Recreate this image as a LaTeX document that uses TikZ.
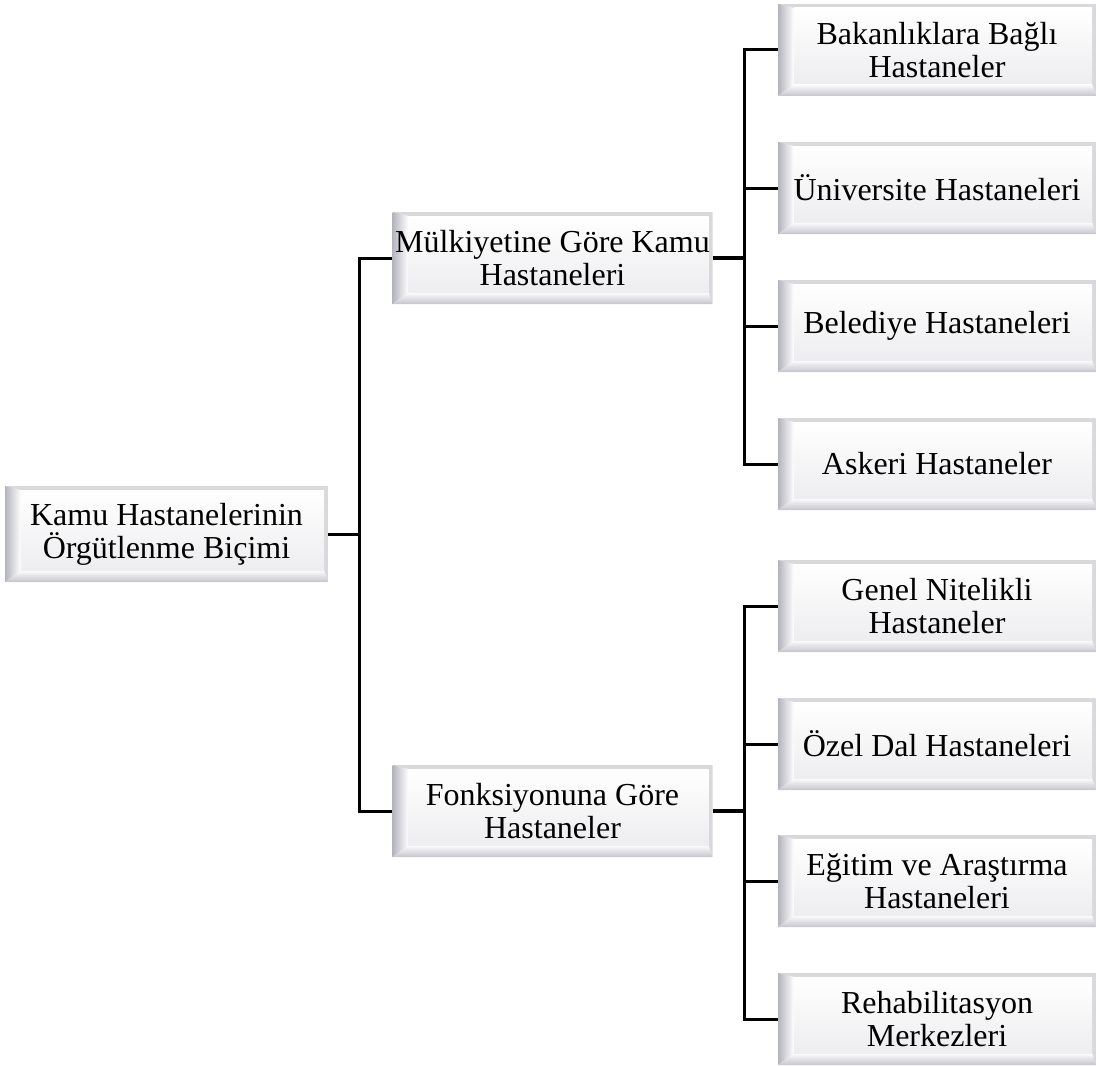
\documentclass[tikz,border=0pt]{standalone}
\usepackage{fontspec}
\setmainfont{Liberation Serif}
\usetikzlibrary{calc}
\definecolor{crim}{HTML}{D9D9DB}
\definecolor{cside}{HTML}{B4B4BE}
\definecolor{cbase}{HTML}{C4C4CC}
\definecolor{cline}{HTML}{000000}
\tikzset{
  every picture/.style={font=\fontsize{16}{16.5}\selectfont},
  box/.style={fill=white, minimum width=#1, minimum height=46pt, inner sep=0pt, align=center,
    path picture={
      \path (path picture bounding box.south west) coordinate (bsw)
            (path picture bounding box.north east) coordinate (bne);
      \fill[crim] (bsw) rectangle (bne);
      \shade[left color=cside, right color=white] (bsw) -- ($(bsw)+(8pt,6pt)$) -- ($(bsw|-bne)+(8pt,-2pt)$) -- (bsw|-bne) -- cycle;
      \shade[top color=white, bottom color=cbase] (bsw) -- (bne|-bsw) -- ($(bne|-bsw)+(-2pt,6pt)$) -- ($(bsw)+(8pt,6pt)$) -- cycle;
      \shade[top color=white, bottom color=cbase!30] ($(bsw)+(8pt,6pt)$) rectangle ($(bne)+(-2pt,-2pt)$);
    }},
  box/.default=160pt,
  link/.style={draw=cline, line width=1.5pt},
}
\begin{document}
\begin{tikzpicture}[x=0.5pt,y=-0.5pt]
  \useasboundingbox (0,0) rectangle (1096,1065);
  \node[box=161.5pt, minimum height=48pt] (root) at (166.5,534) {Kamu Hastanelerinin\\Örgütlenme Biçimi};
  \node[box] (own) at (552.5,258) {Mülkiyetine Göre Kamu\\Hastaneleri};
  \node[box] (func) at (552.5,811) {Fonksiyonuna Göre\\Hastaneler};
  \foreach \n/\y/\t in {own1/50/{Bakanlıklara Bağlı\\Hastaneler}, own2/188/{Üniversite Hastaneleri},
      own3/326/{Belediye Hastaneleri}, own4/464/{Askeri Hastaneler},
      func1/606/{Genel Nitelikli\\Hastaneler}, func2/744/{Özel Dal Hastaneleri},
      func3/881/{Eğitim ve Araştırma\\Hastaneleri}, func4/1019/{Rehabilitasyon\\Merkezleri}}
    \node[box=159pt] (\n) at (937,\y) {\t};
  \draw[link] (root.east) -- ++(15.5pt,0) |- (own.west);
  \draw[link] (root.east) -- ++(15.5pt,0) |- (func.west);
  \foreach \g in {own, func} {
    \draw[link, line width=2.2pt] (\g.east) -- ++(16pt,0);
    \foreach \i in {1,...,4}
      \draw[link] (\g.east) -- ++(16pt,0) |- (\g\i.west);
  }
\end{tikzpicture}
\end{document}
